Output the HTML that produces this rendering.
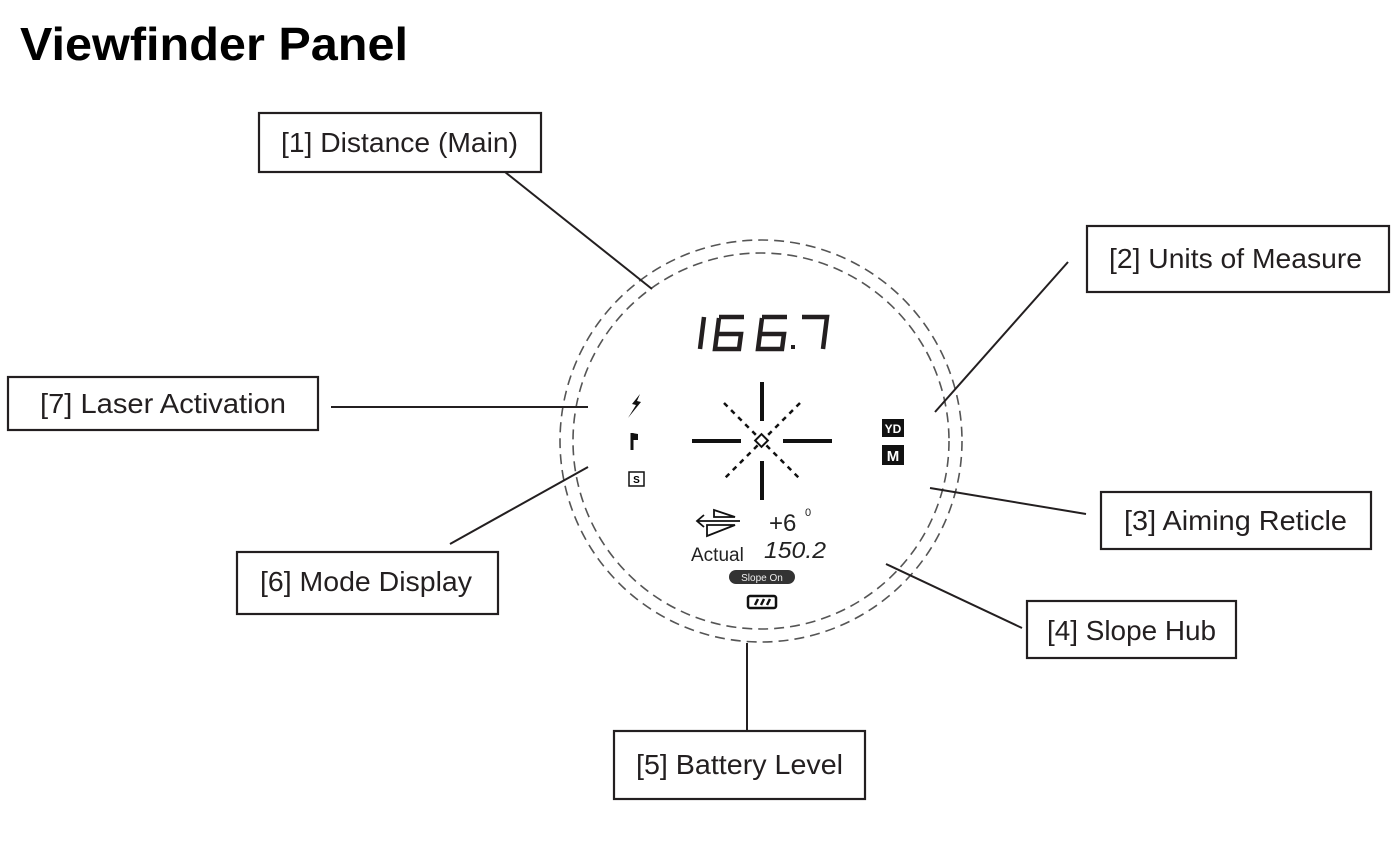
<!DOCTYPE html>
<html><head><meta charset="utf-8"><style>
html,body{margin:0;padding:0;background:#fff;}
svg{display:block}
.lb{font-family:"Liberation Sans",sans-serif;font-size:28px;fill:#231f20;}
.bx{fill:#fff;stroke:#231f20;stroke-width:2.2}
.ln{stroke:#231f20;stroke-width:2}
.seg{stroke:#231f20;stroke-width:4.5;stroke-linecap:butt;stroke-linejoin:miter;fill:none}
</style></head><body>
<svg width="1397" height="859" viewBox="0 0 1397 859">
<text x="20" y="60" font-family="Liberation Sans,sans-serif" font-weight="bold" font-size="46" textLength="388" lengthAdjust="spacingAndGlyphs">Viewfinder Panel</text>

<circle cx="761" cy="441" r="201" fill="none" stroke="#555" stroke-width="1.6" stroke-dasharray="10 6"/>
<circle cx="761" cy="441" r="188" fill="none" stroke="#555" stroke-width="1.6" stroke-dasharray="10 6"/>

<line class="ln" x1="505" y1="172" x2="652" y2="289"/>
<line class="ln" x1="1068" y1="262" x2="935" y2="412"/>
<line class="ln" x1="1086" y1="514" x2="930" y2="488"/>
<line class="ln" x1="1022" y1="628" x2="886" y2="564"/>
<line class="ln" x1="747" y1="643" x2="747" y2="731"/>
<line class="ln" x1="450" y1="544" x2="588" y2="467"/>
<line class="ln" x1="331" y1="407" x2="588" y2="407"/>

<rect class="bx" x="259" y="113" width="282" height="59"/>
<text class="lb" x="281" y="152" textLength="237" lengthAdjust="spacingAndGlyphs">[1] Distance (Main)</text>
<rect class="bx" x="1087" y="226" width="302" height="66"/>
<text class="lb" x="1109" y="268" textLength="253" lengthAdjust="spacingAndGlyphs">[2] Units of Measure</text>
<rect class="bx" x="1101" y="492" width="270" height="57"/>
<text class="lb" x="1124" y="530" textLength="223" lengthAdjust="spacingAndGlyphs">[3] Aiming Reticle</text>
<rect class="bx" x="1027" y="601" width="209" height="57"/>
<text class="lb" x="1047" y="640" textLength="169" lengthAdjust="spacingAndGlyphs">[4] Slope Hub</text>
<rect class="bx" x="614" y="731" width="251" height="68"/>
<text class="lb" x="636" y="774" textLength="207" lengthAdjust="spacingAndGlyphs">[5] Battery Level</text>
<rect class="bx" x="237" y="552" width="261" height="62"/>
<text class="lb" x="260" y="591" textLength="212" lengthAdjust="spacingAndGlyphs">[6] Mode Display</text>
<rect class="bx" x="8" y="377" width="310" height="53"/>
<text class="lb" x="40" y="413" textLength="246" lengthAdjust="spacingAndGlyphs">[7] Laser Activation</text>

<!-- 166.7 -->
<g class="seg">
<line x1="704" y1="317" x2="700" y2="349"/>
<path d="M719 317 L744 317 M719 318 L715 349 L739 349 L741 334 L717 334"/>
<path d="M762 317 L787 317 M762 318 L758 349 L782 349 L784 334 L760 334"/>
<path d="M802 317 L827 317 L823 349"/>
</g>
<rect x="791" y="345" width="4" height="4" fill="#231f20"/>

<!-- reticle -->
<g stroke="#111" stroke-width="4">
<line x1="762" y1="382" x2="762" y2="421"/>
<line x1="762" y1="461" x2="762" y2="500"/>
<line x1="692" y1="441" x2="741" y2="441"/>
<line x1="783" y1="441" x2="832" y2="441"/>
</g>
<g stroke="#111" stroke-width="2.5" stroke-dasharray="5 5">
<line x1="724" y1="403" x2="800" y2="479"/>
<line x1="800" y1="403" x2="724" y2="479"/>
</g>
<rect x="757" y="436" width="9" height="9" transform="rotate(45 761.5 440.5)" fill="#fff" stroke="#111" stroke-width="2"/>

<!-- left icons -->
<path d="M640 394 L632 404 L636 405 L628 418 L641 402 L637 401 Z" fill="#111"/>
<path d="M632 433 L632 450" stroke="#111" stroke-width="3"/>
<path d="M632 433 L638 434 L638 440 L632 440 Z" fill="#111"/>
<rect x="629" y="472" width="15" height="14" fill="#fff" stroke="#111" stroke-width="1.5"/>
<text x="636.5" y="483" text-anchor="middle" font-family="Liberation Sans,sans-serif" font-weight="bold" font-size="10">S</text>

<!-- units -->
<rect x="882" y="419" width="22" height="18" fill="#111"/>
<text x="893" y="433" text-anchor="middle" fill="#fff" font-family="Liberation Sans,sans-serif" font-weight="bold" font-size="12">YD</text>
<rect x="882" y="445" width="22" height="20" fill="#111"/>
<text x="893" y="461" text-anchor="middle" fill="#fff" font-family="Liberation Sans,sans-serif" font-weight="bold" font-size="15">M</text>

<!-- slope area -->
<g stroke="#111" stroke-width="1.8" fill="none">
<line x1="697" y1="521" x2="740" y2="521"/>
<path d="M704 515 L697 521 L704 527"/>
<path d="M714 510 L735 517 L714 517 Z"/>
<path d="M707 525 L735 525 L707 536 Z"/>
</g>
<text x="769" y="531" font-family="Liberation Sans,sans-serif" font-size="24" fill="#222">+6</text>
<text x="805" y="516" font-family="Liberation Sans,sans-serif" font-size="11" fill="#222">0</text>
<text x="691" y="561" font-family="Liberation Sans,sans-serif" font-size="19" fill="#222">Actual</text>
<text x="764" y="558" font-family="Liberation Sans,sans-serif" font-size="23" font-style="italic" fill="#222" textLength="62" lengthAdjust="spacingAndGlyphs">150.2</text>
<rect x="729" y="570" width="66" height="14" rx="7" fill="#333"/>
<text x="762" y="581" text-anchor="middle" fill="#eee" font-family="Liberation Sans,sans-serif" font-size="10">Slope On</text>
<rect x="748" y="596" width="28" height="12" rx="2" fill="#fff" stroke="#111" stroke-width="2.5"/>
<g stroke="#111" stroke-width="2.5"><line x1="755" y1="605" x2="758" y2="599"/><line x1="761" y1="605" x2="764" y2="599"/><line x1="767" y1="605" x2="770" y2="599"/></g>
</svg>
</body></html>
